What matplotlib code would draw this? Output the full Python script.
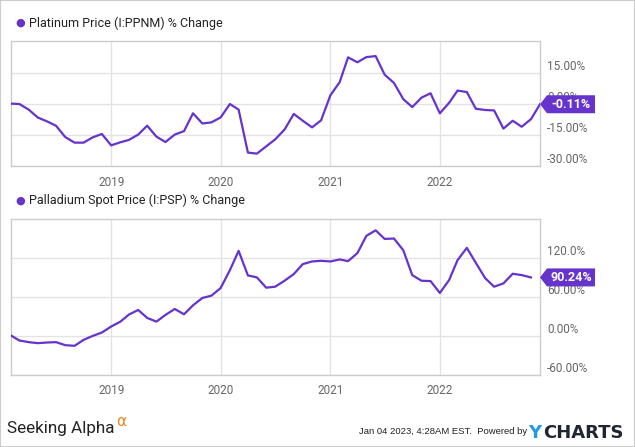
import pandas as pd
import matplotlib
matplotlib.use("Agg")
import matplotlib.pyplot as plt
from matplotlib.patches import Polygon, Rectangle
from matplotlib.transforms import IdentityTransform

# monthly % change series
dates = pd.date_range("2018-02-01", periods=59, freq="MS")

platinum = [0.2, 0.0, -2.7, -6.5, -8.4, -10.5, -16.0, -18.7, -18.7, -16.1,
            -14.5, -20.0, -18.5, -17.4, -14.8, -10.5, -15.8, -18.4, -14.8, -13.1,
            -4.5, -9.4, -8.9, -6.5, 0.0, -2.7, -23.5, -24.0, -20.5, -17.1,
            -12.4, -4.8, -8.1, -11.3, -7.9, 4.2, 10.6, 22.6, 20.2, 22.7,
            23.2, 14.2, 10.2, 2.4, -1.5, 3.1, 5.2, -4.5, 0.6, 6.5,
            5.8, -2.3, -2.9, -3.1, -11.9, -8.1, -11.0, -7.3, -0.11]

palladium = [0.5, -7.2, -9.7, -11.3, -10.3, -9.7, -14.4, -15.4, -6.2, 0.0,
             5.1, 14.4, 22.0, 32.8, 40.0, 27.7, 22.0, 32.3, 41.5, 33.3,
             47.2, 58.5, 62.0, 73.8, 101.5, 131.3, 93.3, 90.3, 74.4, 75.9,
             85.1, 95.4, 110.8, 114.9, 115.9, 114.9, 118.0, 115.4, 127.7, 154.4,
             163.0, 149.7, 150.3, 132.3, 93.8, 85.1, 84.6, 66.2, 86.2, 116.9,
             135.9, 112.8, 89.2, 75.9, 81.0, 95.9, 93.8, 90.24]

year_ticks = pd.to_datetime(["2019-01-01", "2020-01-01", "2021-01-01", "2022-01-01"])
year_labels = ["2019", "2020", "2021", "2022"]

plat_ticks = [-30, -15, 0, 15]
plat_labels = ["-30.00%", "-15.00%", "0.00%", "15.00%"]
pall_ticks = [-60, 0, 60, 120]
pall_labels = ["-60.00%", "0.00%", "60.00%", "120.0%"]

purple = "#6633cc"
grid_c = "#e3e3e3"
tick_c = "#666666"
font = ["Roboto", "DejaVu Sans"]

fig = plt.figure(figsize=(6.35, 4.47), dpi=100)
fig.patch.set_facecolor("white")


def panel(rect, vals, ticks, labels, ylim, title, title_y, badge):
    ax = fig.add_axes(rect)
    ax.plot(dates[:len(vals)], vals, color=purple, lw=1.6, zorder=3,
            solid_joinstyle="round")
    ax.set_xlim(dates[0], dates[-1])
    ax.set_ylim(*ylim)
    ax.set_xticks(year_ticks)
    ax.set_xticklabels(year_labels)
    ax.set_yticks(ticks)
    ax.set_yticklabels(labels)
    ax.grid(True, color=grid_c, lw=1)
    ax.set_axisbelow(True)
    for s in ax.spines.values():
        s.set_color("#cccccc")
        s.set_linewidth(1)
    ax.tick_params(length=0, colors=tick_c, labelsize=8.5)
    ax.tick_params(axis="x", pad=7)
    ax.tick_params(axis="y", left=False, labelleft=False, labelright=True, pad=5)
    for lbl in ax.get_xticklabels() + ax.get_yticklabels():
        lbl.set_family(font)
    for lbl in ax.get_yticklabels():
        lbl.set_verticalalignment("bottom")

    # series title with dot
    fig.text(20 / 635, 1 - title_y / 447, "\u25cf", color=purple, fontsize=8,
             va="center", ha="center")
    fig.text(29 / 635, 1 - title_y / 447, title, color="#222222", fontsize=9,
             va="center", ha="left", family=font)

    # last value badge (covers the tick label behind it, as in the original)
    x0, y0 = ax.get_yaxis_transform().transform((1, vals[-1]))
    poly = Polygon([(x0, y0), (x0 + 7, y0 + 9), (x0 + 55, y0 + 9),
                    (x0 + 55, y0 - 9), (x0 + 7, y0 - 9)],
                   closed=True, fc=purple, ec="none", transform=IdentityTransform())
    fig.add_artist(poly)
    fig.text(x0 + 31, y0, badge, color="white", fontsize=9, fontweight="bold",
             ha="center", va="center", transform=IdentityTransform(), family=font)
    return ax


panel([11 / 635, 1 - 166 / 447, 529 / 635, 125 / 447], platinum,
      plat_ticks, plat_labels, (-30, 30.5),
      "Platinum Price (I:PPNM) % Change", 23, "-0.11%")
panel([11 / 635, 1 - 374.7 / 447, 529 / 635, 155.4 / 447], palladium,
      pall_ticks, pall_labels, (-60, 180),
      "Palladium Spot Price (I:PSP) % Change", 200.5, "90.24%")

# footer
fig.text(7 / 635, 1 - 433 / 447, "Seeking Alpha", fontsize=12.3, color="#222222",
         va="baseline", ha="left", family=font)
fig.text(116 / 635, 1 - 426 / 447, "\u03b1", fontsize=11, color="#f58220",
         va="baseline", ha="left", family=["DejaVu Sans"])
fig.text(527 / 635, 1 - 432 / 447, "Jan 04 2023, 4:28AM EST.  Powered by",
         fontsize=6.8, color="#222222", va="center", ha="right",
         family=["Liberation Sans Narrow", "Liberation Sans", "DejaVu Sans"])
fig.text(528 / 635, 1 - 433.5 / 447, "Y", fontsize=13, color="#1e9be9",
         fontweight="bold", va="center", ha="left", family=["DejaVu Sans"])
fig.text(543 / 635, 1 - 433.5 / 447, "CHARTS", fontsize=13, color="#1f2533",
         fontweight="bold", va="center", ha="left", family=["DejaVu Sans"])

fig.add_artist(Rectangle((0, 0), 1, 1, transform=fig.transFigure, fill=False,
                         ec="#cccccc", lw=1.5))

fig.savefig("out.png", dpi=100, facecolor="white")
